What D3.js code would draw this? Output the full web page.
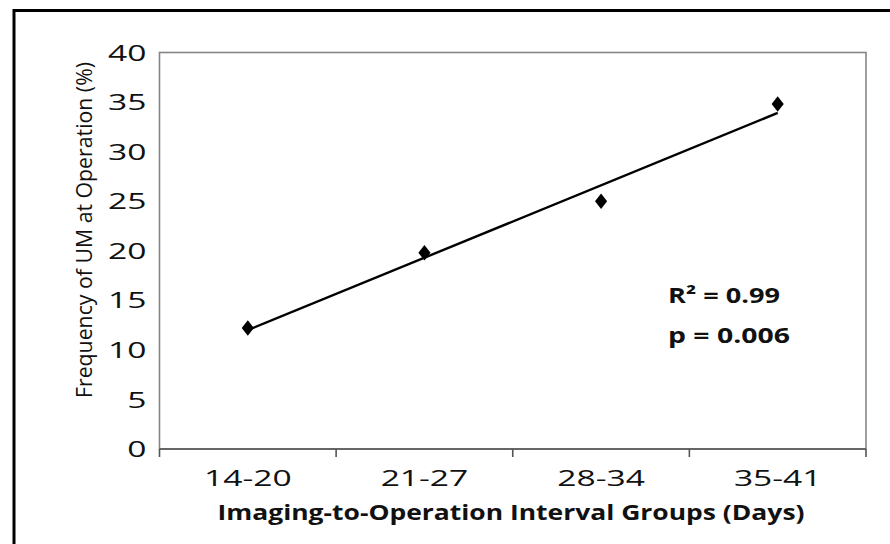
<!DOCTYPE html>
<html>
<head>
<meta charset="utf-8">
<script src="https://cdn.jsdelivr.net/npm/d3@7"></script>
<style>
  html, body { margin: 0; padding: 0; background: #fff; }
  svg { display: block; }
  text { font-family: "Open Sans", "Noto Sans", sans-serif; fill: #111; }
</style>
</head>
<body>
<svg id="chart" width="890" height="544"></svg>
<script>
// Interval groups (days between imaging and operation)
const groups = ["14-20", "21-27", "28-34", "35-41"];
// Frequency of UM found at operation, in percent
const frequency = [12.2, 19.8, 25.0, 34.8];
// Value axis ticks
const yTicks = [0, 5, 10, 15, 20, 25, 30, 35, 40];
// Fit statistics shown on the chart
const statLines = ["R\u00B2 = 0.99", "p = 0.006"];

const svg = d3.select("#chart");
const W = 890, H = 544;
const plot = { left: 159.5, right: 866, top: 52.5, bottom: 449 };
const SX_Y = 1.6;  // horizontal stretch of value labels
const SX_X = 1.6;  // horizontal stretch of group labels

svg.append("rect").attr("width", W).attr("height", H).attr("fill", "#fff");

// outer frame (runs off the right and bottom edges)
svg.append("rect")
  .attr("x", 14).attr("y", 10.5)
  .attr("width", 1000).attr("height", 800)
  .attr("fill", "none").attr("stroke", "#000").attr("stroke-width", 3);

const x = d3.scaleBand().domain(groups).range([plot.left, plot.right]).paddingInner(0).paddingOuter(0);
const y = d3.scaleLinear().domain([0, 40]).range([plot.bottom, plot.top]);

// plot area border
svg.append("rect")
  .attr("x", plot.left).attr("y", plot.top)
  .attr("width", plot.right - plot.left).attr("height", plot.bottom - plot.top)
  .attr("fill", "none").attr("stroke", "#858585").attr("stroke-width", 1.6);

// y axis labels
const yAxis = svg.append("g")
  .attr("transform", `translate(${plot.left},0)`)
  .call(d3.axisLeft(y).tickValues(yTicks).tickSize(0).tickPadding(0));
yAxis.select(".domain").remove();
yAxis.selectAll("text")
  .attr("x", null).attr("dy", "0.36em")
  .attr("transform", `translate(-13,0) scale(${SX_Y},1)`)
  .style("font-size", "21px").style("font-family", "\"Open Sans\", sans-serif")
  .attr("fill", "#111");

// x axis: tick marks at group boundaries
const bounds = groups.map(g => x(g)).concat([x.range()[1]]);
svg.append("g").selectAll("line").data(bounds).join("line")
  .attr("x1", d => d).attr("x2", d => d)
  .attr("y1", plot.bottom).attr("y2", plot.bottom + 8)
  .attr("stroke", "#555").attr("stroke-width", 1.6);
svg.append("line")
  .attr("x1", plot.left).attr("x2", plot.right)
  .attr("y1", plot.bottom).attr("y2", plot.bottom)
  .attr("stroke", "#555").attr("stroke-width", 1.6);

// x tick labels
svg.append("g").selectAll("text").data(groups).join("text")
  .attr("text-anchor", "middle")
  .attr("transform", d => `translate(${x(d) + x.bandwidth() / 2},486) scale(${SX_X},1)`)
  .style("font-size", "21px")
  .text(d => d);

// axis titles
svg.append("text")
  .attr("x", 511).attr("y", 520)
  .attr("text-anchor", "middle")
  .attr("textLength", 587).attr("lengthAdjust", "spacingAndGlyphs")
  .style("font-size", "21px").style("font-weight", "700")
  .text("Imaging-to-Operation Interval Groups (Days)");

svg.append("text")
  .attr("transform", "translate(92,230) rotate(-90)")
  .attr("text-anchor", "middle")
  .attr("textLength", 336).attr("lengthAdjust", "spacingAndGlyphs")
  .style("font-size", "21px")
  .text("Frequency of UM at Operation (%)");

// least-squares trend line through the group means
const xs = frequency.map((_, i) => i + 1);
const mx = d3.mean(xs), my = d3.mean(frequency);
const slope = d3.sum(xs, (xi, i) => (xi - mx) * (frequency[i] - my)) / d3.sum(xs, xi => (xi - mx) ** 2);
const intercept = my - slope * mx;
const cx = i => x(groups[i]) + x.bandwidth() / 2;
svg.append("line")
  .attr("x1", cx(0)).attr("y1", y(intercept + slope * 1))
  .attr("x2", cx(groups.length - 1)).attr("y2", y(intercept + slope * groups.length))
  .attr("stroke", "#000").attr("stroke-width", 2.4);

// data points as diamonds
const diamond = d3.symbol().type(d3.symbolDiamond).size(70);
svg.append("g").selectAll("path").data(frequency).join("path")
  .attr("d", diamond)
  .attr("transform", (d, i) => `translate(${cx(i)},${y(d)}) scale(1.35,1)`)
  .attr("fill", "#000");

// fit statistics
const statWidths = [112, 122];
const statBaselines = [303, 343];
svg.append("g").selectAll("text").data(statLines).join("text")
  .attr("x", 668).attr("y", (d, i) => statBaselines[i])
  .attr("textLength", (d, i) => statWidths[i]).attr("lengthAdjust", "spacingAndGlyphs")
  .style("font-size", "21px").style("font-weight", "700")
  .text(d => d);
</script>
</body>
</html>
